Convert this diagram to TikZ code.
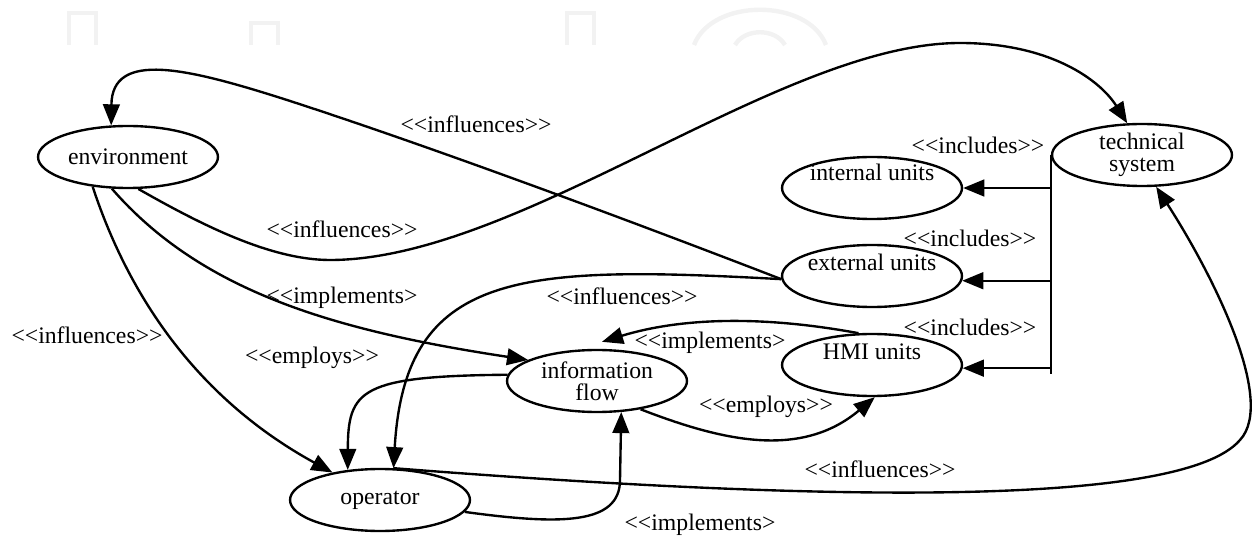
\documentclass[tikz,border=0pt]{standalone}
\usepackage{fontspec}
\setmainfont{Liberation Serif}
\newfontfamily\tnr{Liberation Serif}
\usetikzlibrary{arrows.meta,shapes.geometric,calc}
\newcommand\dfont{\tnr\fontsize{13.5}{12.5}\selectfont}
\begin{document}
\begin{tikzpicture}[x=0.02cm,y=-0.02cm,
  ue/.style={ellipse, draw, line width=1.35pt, minimum width=3.6cm, minimum height=1.24cm, inner sep=0pt, font=\dfont, align=center},
  lbl/.style={font=\dfont, inner sep=0pt},
  arr/.style={line width=1.35pt, -{Triangle[length=12pt,width=9.5pt]}},
  plain/.style={line width=1.35pt},
  wm/.style={draw=black!5, line width=2.5pt}]
\useasboundingbox (0,0) rectangle (1257,540);
% watermark
\draw[wm] (69,45) -- (69,13) -- (96,13) -- (96,45);
\draw[wm] (251,45) -- (251,23) -- (278,23) -- (278,45);
\draw[wm] (567,45) -- (567,13) -- (594,13) -- (594,45);
\draw[wm] (694,45) .. controls (712,-2) and (808,-2) .. (826,45);
\draw[wm] (735,45) .. controls (745,28) and (775,28) .. (785,45);
% nodes
\node[ue] (env) at (128,157) {environment};
\node[ue] (tech) at (1142,155) {technical\\system};
\node[ue, label={[lbl,yshift=0.31cm]center:internal units}] (int) at (872,188) {};
\node[ue, label={[lbl,yshift=0.28cm]center:external units}] (ext) at (872,276) {};
\node[ue, label={[lbl,yshift=0.26cm]center:HMI units}] (hmi) at (872,365) {};
\node[ue] (info) at (597,381) {information\\flow};
\node[ue] (op) at (380,500) {operator};
% includes
\coordinate (barbot) at (1053,374);
\draw[plain] (tech.west) -- (tech.west |- barbot);
\draw[arr] (tech.west |- int.east) -- (int.east);
\draw[arr] (tech.west |- ext.-3) -- (ext.-3);
\draw[arr] (tech.west |- hmi.-2) -- (hmi.-2);
\node[lbl] (li1) at (978,145) {<{}<includes>{}>};
\node[lbl] (li2) at (970,238) {<{}<includes>{}>};
\node[lbl] (li3) at (970,327) {<{}<includes>{}>};
% edges
\draw[arr] (ext.182) .. controls (610,213) and (420,143) .. (287,100) .. controls (187,68) and (112,50) .. (env.118);
\draw[arr] (env.-72) .. controls (200,224) and (270,260) .. (330,260) .. controls (520,260) and (780,43) .. (960,43) .. controls (1050,43) and (1100,80) .. (tech.115);
\draw[arr] (env.-117) .. controls (200,290) and (330,330) .. (info.163);
\draw[arr] (env.-140) .. controls (130,300) and (200,400) .. (op.150);
\draw[arr] (info.176) .. controls (360,376) and (348,390) .. (op.137);
\draw[arr] (ext.182) .. controls (520,265) and (405,270) .. (op.67);
\draw[arr] (hmi.113) .. controls (760,315) and (680,318) .. ($(info.north)+(5,-7)$);
\draw[arr] (info.-33) .. controls (720,440) and (800,460) .. (hmi.-85);
\draw[arr] (op.-8) .. controls (560,525) and (620,525) .. (620,480) -- (info.-52.5);
\draw[arr] (op.67) .. controls (800,500) and (1180,510) .. (1240,440) .. controls (1277,400) and (1210,270) .. (tech.-66);
% edge labels
\node[lbl] (l1) at (476,124) {<{}<influences>{}>};
\node[lbl] (l2) at (342,229) {<{}<influences>{}>};
\node[lbl] (l3) at (342,298) {<{}<implements>};
\node[lbl] (l4) at (87,335) {<{}<influences>{}>};
\node[lbl] (l5) at (312,358) {<{}<employs>{}>};
\node[lbl] (l6) at (622,296) {<{}<influences>{}>};
\node[lbl] (l7) at (710,343) {<{}<implements>};
\node[lbl] (l8) at (766,407) {<{}<employs>{}>};
\node[lbl] (l9) at (880,469) {<{}<influences>{}>};
\node[lbl] (l10) at (700,525) {<{}<implements>};
\end{tikzpicture}
\end{document}
